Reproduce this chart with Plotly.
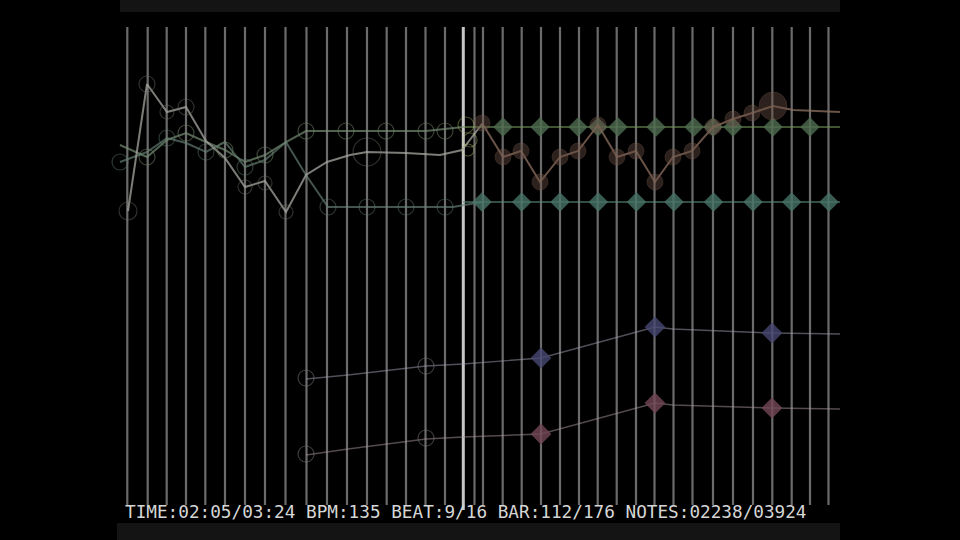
import plotly.graph_objects as go

# ---------------- data (screen-like units) ----------------
beat_x = [127.3, 147.7, 166.7, 186, 205.3, 225, 245, 265, 285.5, 306.5, 327, 347, 367,
          386.7, 406, 425.5, 445, 474.5, 483, 502.7, 521.7, 541, 560, 579, 597.7, 616.7,
          636, 654.5, 673.5, 692.5, 713, 733, 753, 772.3, 791.7, 810, 828.5]
cursor_x = [463.3]

# past tracks (left of the cursor)
past_white_x = [128, 147, 167, 186, 206, 225, 245, 265, 286, 306, 327, 350, 367, 406, 440, 462, 482]
past_white_y = [211, 84, 112, 107, 141, 158, 187, 181, 212, 175, 162, 155, 152, 153, 155, 150, 124]
past_white_mx = [128, 147, 167, 186, 245, 265, 286, 367]
past_white_my = [211, 84, 112, 107, 187, 183, 212, 152]
past_white_ms = [18, 16, 14, 16, 14, 14, 14, 28]

past_green_x = [120, 147, 167, 186, 206, 225, 245, 265, 286, 306, 346, 386, 426, 463]
past_green_y = [145, 157, 140, 133, 142, 150, 162, 155, 142, 131, 131, 131, 131, 127]
past_green_mx = [147, 186, 225, 265, 306, 346, 386, 426, 445]
past_green_my = [157, 133, 150, 155, 131, 131, 131, 131, 131]

past_teal_x = [120, 147, 167, 186, 206, 225, 245, 265, 286, 306, 328, 367, 406, 453, 482]
past_teal_y = [162, 152, 138, 143, 152, 142, 167, 160, 142, 175, 207, 207, 207, 207, 202]
past_teal_mx = [120, 167, 206, 245, 328, 367, 406, 445]
past_teal_my = [162, 138, 152, 167, 207, 207, 207, 207]

# upcoming tracks (right of the cursor)
green_x = [463, 840]
green_y = [127, 127]
green_mx = [503, 540, 578, 598, 618, 656, 694, 713, 733, 773, 810]
green_my = [127] * 11

brown_x = [482, 503, 521, 540, 560, 578, 598, 617, 636, 655, 673, 692, 713, 733, 752, 773, 793, 840]
brown_y = [123, 157, 151, 182, 157, 151, 125, 157, 151, 182, 157, 151, 127, 119, 113, 106, 110, 112]
brown_ms = [16, 16, 16, 16, 16, 16, 16, 16, 16, 16, 16, 16, 16, 16, 16, 28, 0, 0]

teal_x = [463, 840]
teal_y = [202, 202]
teal_mx = [482, 521.7, 560, 598.3, 636.5, 674, 713.5, 753, 791.7, 829]
teal_my = [202] * 10

purple_x = [306, 348, 426, 463, 541, 655, 673, 772, 840]
purple_y = [379, 375, 366, 364, 358, 327, 329, 333, 334]
purple_mx = [541, 655, 772]
purple_my = [358, 327, 333]

pink_x = [306, 348, 426, 463, 541, 655, 673, 772, 840]
pink_y = [455, 449, 439, 437, 434, 403, 405, 408, 409]
pink_mx = [541, 655, 772]
pink_my = [434, 403, 408]

hollow_x = [306, 426, 306, 426]
hollow_y = [378, 366, 454, 438]

status_text = "TIME:02:05/03:24 BPM:135 BEAT:9/16 BAR:112/176 NOTES:02238/03924"
line_top, line_bottom, cursor_bottom = 27, 505, 510

# ---------------- figure ----------------
fig = go.Figure()

# beat lines
vx, vy = [], []
for b in beat_x:
    vx += [b, b, None]
    vy += [line_top, line_bottom, None]
fig.add_trace(go.Scatter(x=vx, y=vy, mode="lines",
                         line=dict(color="rgba(195,195,195,0.55)", width=2.2), hoverinfo="skip"))
cx, cy = [], []
for c in cursor_x:
    cx += [c, c, None]
    cy += [line_top, cursor_bottom, None]
fig.add_trace(go.Scatter(x=cx, y=cy, mode="lines",
                         line=dict(color="rgba(220,220,220,0.9)", width=3), hoverinfo="skip"))


def line(x, y, color, width=1.6, dash=None):
    fig.add_trace(go.Scatter(x=x, y=y, mode="lines",
                             line=dict(color=color, width=width, dash=dash), hoverinfo="skip"))


def markers(x, y, color, symbol, size, opacity=1.0, lw=1.2, fill=None):
    fig.add_trace(go.Scatter(
        x=x, y=y, mode="markers", opacity=opacity,
        marker=dict(symbol=symbol, size=size, color=fill if fill else color,
                    line=dict(color=color, width=lw)),
        hoverinfo="skip"))


# past tracks
line(past_green_x, past_green_y, "rgba(115,140,115,0.7)", 2)
line(past_teal_x, past_teal_y, "rgba(105,130,120,0.65)", 2)
line(past_white_x, past_white_y, "rgba(165,165,160,0.75)", 2)
markers(past_green_mx, past_green_my, "rgba(115,135,105,0.5)", "circle-open", 16)
markers(past_teal_mx, past_teal_my, "rgba(95,125,110,0.45)", "circle-open", 16)
markers(past_white_mx, past_white_my, "rgba(125,125,115,0.55)", "circle-open", past_white_ms)

# upcoming tracks
line(green_x, green_y, "rgba(115,150,90,0.75)", 1.6)
markers(green_mx, green_my, "rgba(0,0,0,0)", "diamond", 15, 0.85, 0, fill="rgba(78,108,80,0.95)")
line(teal_x, teal_y, "rgba(90,140,122,0.75)", 1.6)
markers(teal_mx, teal_my, "rgba(0,0,0,0)", "diamond", 15, 0.85, 0, fill="rgba(72,115,102,0.95)")
line(brown_x, brown_y, "rgba(140,112,95,0.75)", 2)
markers(brown_x, brown_y, "rgba(140,105,90,0.55)", "circle", brown_ms, 0.75, 1,
        fill="rgba(110,80,70,0.8)")

# cursor hit glow
markers([466, 470, 468], [125, 140, 150], "rgba(180,200,110,0.55)", "circle-open", [16, 14, 12])

# lower tracks
line(purple_x, purple_y, "rgba(160,160,175,0.5)", 1.4)
line(pink_x, pink_y, "rgba(165,150,155,0.5)", 1.4)
markers(purple_mx, purple_my, "rgba(0,0,0,0)", "diamond", 16, 0.85, 0, fill="rgba(72,72,115,0.95)")
markers(pink_mx, pink_my, "rgba(0,0,0,0)", "diamond", 16, 0.85, 0, fill="rgba(115,72,85,0.95)")
markers(hollow_x, hollow_y, "rgba(130,130,130,0.45)", "circle-open", 16)

fig.add_annotation(x=123, y=512, xref="x", yref="y", text=status_text, showarrow=False,
                   xanchor="left", yanchor="middle",
                   font=dict(family="DejaVu Sans Mono", size=17.7, color="#d6d6d6"))

fig.update_layout(
    width=960, height=540, margin=dict(l=0, r=0, t=0, b=0),
    paper_bgcolor="black", plot_bgcolor="black", showlegend=False,
    xaxis=dict(range=[0, 960], visible=False, fixedrange=True),
    yaxis=dict(range=[540, 0], visible=False, fixedrange=True),
    shapes=[
        dict(type="rect", xref="x", yref="y", x0=120, x1=840, y0=0, y1=12,
             fillcolor="#141414", line=dict(width=0), layer="below"),
        dict(type="rect", xref="x", yref="y", x0=117, x1=840, y0=523, y1=540,
             fillcolor="#141414", line=dict(width=0), layer="below"),
    ],
)

fig.write_html(
    "out.html",
    config={"displayModeBar": False, "staticPlot": True},
    post_script="document.body.style.margin='0';document.body.style.padding='0';"
                "document.body.style.background='black';document.body.style.overflow='hidden';",
)
